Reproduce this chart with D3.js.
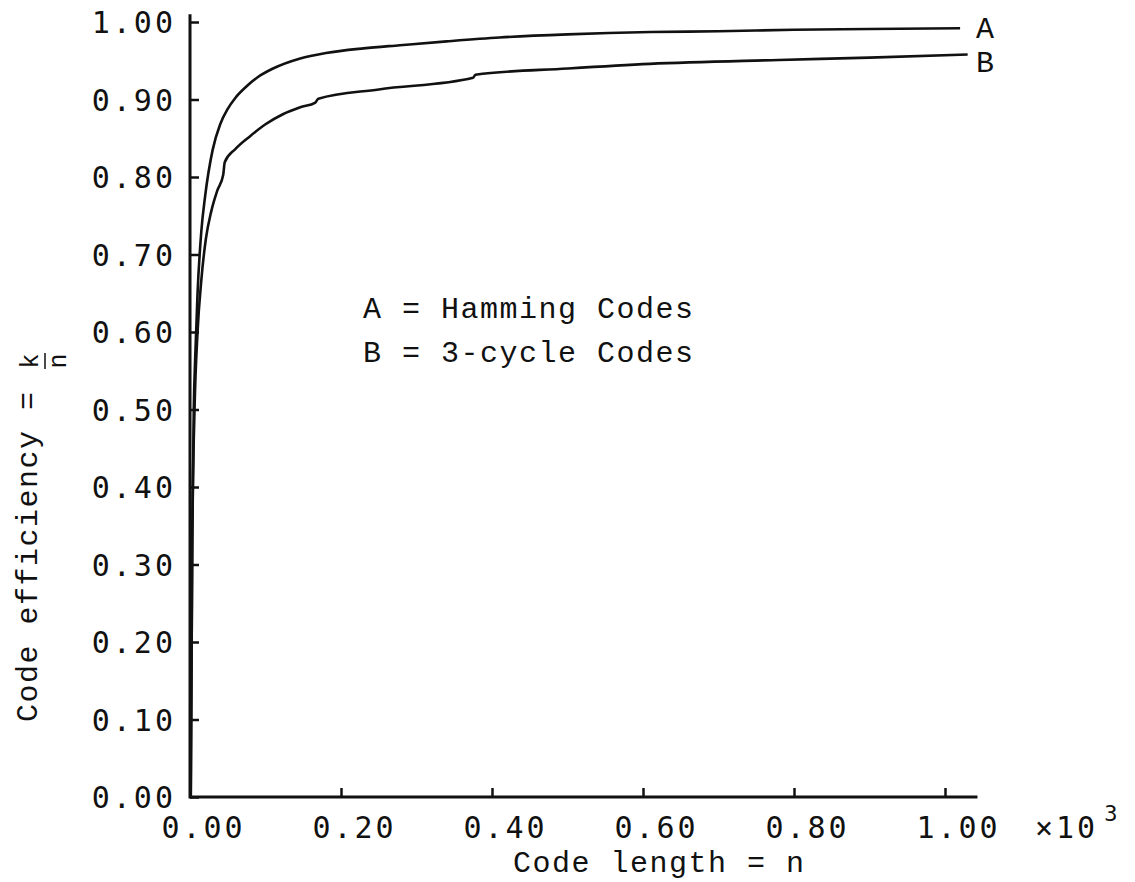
<!DOCTYPE html>
<html>
<head>
<meta charset="utf-8">
<script src="https://cdn.jsdelivr.net/npm/d3@7"></script>
<style>
  html, body { margin: 0; padding: 0; background: #fff; }
  svg { display: block; }
  .tick-label { font-family: "DejaVu Sans Mono", monospace; font-size: 30px; letter-spacing: 3px; fill: #111; }
  .mono { font-family: "Liberation Mono", "Courier New", monospace; font-size: 30px; letter-spacing: 1.5px; fill: #111; }
</style>
</head>
<body>
<div id="chart"></div>
<script>
// Code length n (x10^3) and efficiency k/n
const hammingN = [0.001, 0.003, 0.005, 0.007, 0.010, 0.015, 0.020, 0.030, 0.040, 0.050, 0.060, 0.075, 0.090, 0.110, 0.146, 0.180, 0.230, 0.278, 0.340, 0.410, 0.500, 0.610, 0.700, 0.800, 0.900, 1.020];
const hammingK = [0.00, 0.33, 0.50, 0.57, 0.65, 0.73, 0.775, 0.835, 0.868, 0.888, 0.902, 0.917, 0.929, 0.940, 0.953, 0.960, 0.966, 0.970, 0.975, 0.980, 0.984, 0.987, 0.988, 0.990, 0.991, 0.992];

const cycleN = [0.001, 0.003, 0.006, 0.010, 0.015, 0.021, 0.028, 0.036, 0.044, 0.046, 0.060, 0.080, 0.100, 0.123, 0.146, 0.166, 0.170, 0.250, 0.375, 0.378, 0.500, 0.609, 0.780, 0.900, 1.030];
const cycleK = [0.00, 0.333, 0.50, 0.60, 0.667, 0.720, 0.755, 0.782, 0.803, 0.819, 0.836, 0.853, 0.868, 0.881, 0.890, 0.896, 0.901, 0.913, 0.928, 0.932, 0.940, 0.946, 0.951, 0.954, 0.958];

const xTicks = [0, 0.2, 0.4, 0.6, 0.8, 1.0];
const yTicks = [0, 0.1, 0.2, 0.3, 0.4, 0.5, 0.6, 0.7, 0.8, 0.9, 1.0];

const legendLines = ["A = Hamming Codes", "B = 3-cycle Codes"];

const width = 1135, height = 882;

const svg = d3.select("#chart").append("svg")
  .attr("width", width)
  .attr("height", height);

const x = d3.scaleLinear().domain([0, 1]).range([190, 945]);
const y = d3.scaleLinear().domain([0, 1]).range([797, 22]);

// axis lines (run a little past the last tick like the plotter did)
svg.append("line")
  .attr("x1", x(0)).attr("x2", x(1.043))
  .attr("y1", y(0)).attr("y2", y(0))
  .attr("stroke", "#111").attr("stroke-width", 3);
svg.append("line")
  .attr("x1", x(0)).attr("x2", x(0))
  .attr("y1", y(0) + 1.5).attr("y2", y(1.01))
  .attr("stroke", "#111").attr("stroke-width", 3);

// y ticks point inward
const yAxis = svg.append("g")
  .attr("transform", `translate(${x(0)},0)`)
  .call(d3.axisLeft(y).tickValues(yTicks).tickSize(-9).tickSizeOuter(0).tickFormat(d3.format(".2f")));
yAxis.select(".domain").remove();
yAxis.selectAll(".tick line").attr("stroke", "#111").attr("stroke-width", 2.5);
yAxis.selectAll(".tick text")
  .attr("class", "tick-label")
  .attr("x", -14)
  .attr("dy", "0.36em");
yAxis.attr("font-size", null).attr("font-family", null);

// x ticks point up
const xAxis = svg.append("g")
  .attr("transform", `translate(0,${y(0)})`)
  .call(d3.axisBottom(x).tickValues(xTicks).tickSize(-9).tickSizeOuter(0).tickFormat(d3.format(".2f")));
xAxis.select(".domain").remove();
xAxis.selectAll(".tick line").attr("stroke", "#111").attr("stroke-width", 2.5);
xAxis.selectAll(".tick text")
  .attr("class", "tick-label")
  .attr("x", 13)
  .attr("y", 41)
  .attr("dy", 0);
xAxis.attr("font-size", null).attr("font-family", null);

// x10^3 multiplier
const mult = svg.append("text")
  .attr("class", "tick-label")
  .attr("x", 1035)
  .attr("y", 838);
mult.append("tspan").text("×10");
mult.append("tspan").attr("font-size", 22).attr("dx", 6).attr("dy", -17).text("3");

// curves
const line = d3.line()
  .x(d => x(d[0]))
  .y(d => y(d[1]))
  .curve(d3.curveMonotoneX);

const seriesA = hammingN.map((n, i) => [n, hammingK[i]]);
const seriesB = cycleN.map((n, i) => [n, cycleK[i]]);

svg.append("path")
  .datum(seriesA)
  .attr("d", line)
  .attr("fill", "none")
  .attr("stroke", "#111")
  .attr("stroke-width", 2.6);

svg.append("path")
  .datum(seriesB)
  .attr("d", line)
  .attr("fill", "none")
  .attr("stroke", "#111")
  .attr("stroke-width", 2.6);

// end labels
svg.append("text").attr("class", "mono").attr("x", 976).attr("y", 38).text("A");
svg.append("text").attr("class", "mono").attr("x", 976).attr("y", 72).text("B");

// legend
svg.selectAll(".legend")
  .data(legendLines)
  .enter()
  .append("text")
  .attr("class", "mono legend")
  .attr("x", 363)
  .attr("y", (d, i) => 318 + i * 44)
  .style("white-space", "pre")
  .text(d => d);

// x axis title
svg.append("text")
  .attr("class", "mono")
  .attr("x", 513)
  .attr("y", 872)
  .style("white-space", "pre")
  .text("Code length = n");

// y axis title, rotated, with k/n as a fraction
const yTitle = svg.append("g").attr("transform", "translate(37,722) rotate(-90)");
yTitle.append("text")
  .attr("class", "mono")
  .attr("x", 0)
  .attr("y", 0)
  .style("white-space", "pre")
  .text("Code efficiency = ");
yTitle.append("text")
  .attr("class", "mono")
  .attr("x", 361)
  .attr("y", 1)
  .attr("text-anchor", "middle")
  .style("font-size", "25px")
  .style("letter-spacing", "0px")
  .text("k");
yTitle.append("line")
  .attr("x1", 353).attr("x2", 369)
  .attr("y1", 8).attr("y2", 8)
  .attr("stroke", "#111").attr("stroke-width", 1.5);
yTitle.append("text")
  .attr("class", "mono")
  .attr("x", 361)
  .attr("y", 29)
  .attr("text-anchor", "middle")
  .style("font-size", "25px")
  .style("letter-spacing", "0px")
  .text("n");
</script>
</body>
</html>
